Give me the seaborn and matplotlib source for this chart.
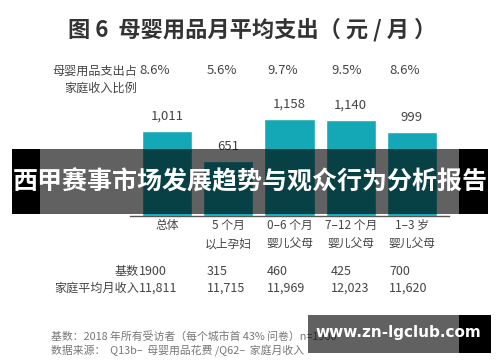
import numpy as np
import pandas as pd
import matplotlib
matplotlib.use("Agg")
import matplotlib.pyplot as plt
import seaborn as sns
from matplotlib.patches import Rectangle

# datos del grafico
categorias = ["总体", "5 个月\n以上孕妇", "0–6 个月\n婴儿父母", "7–12 个月\n婴儿父母", "1–3 岁\n婴儿父母"]
gasto = [1011, 651, 1158, 1140, 999]
porcentaje = ["8.6%", "5.6%", "9.7%", "9.5%", "8.6%"]
base = ["1900", "315", "460", "425", "700"]
ingreso = ["11,811", "11,715", "11,969", "12,023", "11,620"]

sns.set_style("white")
plt.rcParams['font.family'] = ['Noto Sans CJK SC', 'DejaVu Sans']

W, H = 500, 362
fig = plt.figure(figsize=(W / 100, H / 100), dpi=100)
fig.patch.set_facecolor("white")

def fx(px):
    return px / W

def fy(py):
    return 1 - py / H

# eje de barras
ax = fig.add_axes([fx(130.3), fy(216), fx(448.6 - 130.3), (216 - 106.6) / H])
df = pd.DataFrame({"cat": categorias, "gasto": gasto})
sns.barplot(data=df, x="cat", y="gasto", color="#14a8b6", saturation=1, width=0.82, ax=ax)
ax.set_xlim(-0.6, 4.6)
ax.set_ylim(0, 1300)
ax.bar_label(ax.containers[0], labels=[f"{v:,}" for v in gasto], padding=6,
             fontsize=9.5, color="#444444")
ax.set_xlabel("")
ax.set_ylabel("")
ax.set_yticks([])
ax.tick_params(axis="x", length=0, pad=2, labelsize=8.5, labelcolor="#444444")
for lab in ax.get_xticklabels():
    lab.set_linespacing(1.55)
for s in ["top", "left", "right"]:
    ax.spines[s].set_visible(False)
ax.spines["bottom"].set_color("#555555")
ax.spines["bottom"].set_linewidth(1)
ax.patch.set_alpha(0)

# titulo
fig.text(fx(68), fy(30), "图 6  母婴用品月平均支出（ 元 / 月 ）", fontsize=16, fontweight="bold",
         color="#333333", va="center", ha="left")

# filas de texto
col_x = [139, 207, 267, 331, 389]
fig.text(fx(137), fy(71), "母婴用品支出占", fontsize=8.7, color="#444444", ha="right", va="center")
fig.text(fx(137), fy(88), "家庭收入比例", fontsize=8.7, color="#444444", ha="right", va="center")
fig.text(fx(139), fy(271.5), "基数", fontsize=8.7, color="#444444", ha="right", va="center")
fig.text(fx(139), fy(288), "家庭平均月收入", fontsize=8.7, color="#444444", ha="right", va="center")
for i in range(5):
    fig.text(fx(col_x[i]), fy(71), porcentaje[i], fontsize=9.5, color="#444444", ha="left", va="center")
    fig.text(fx(col_x[i]), fy(271.5), base[i], fontsize=9, color="#444444", ha="left", va="center")
    fig.text(fx(col_x[i]), fy(288), ingreso[i], fontsize=9, color="#444444", ha="left", va="center")

# notas
fig.text(fx(51), fy(336), "基数：2018 年所有受访者（每个城市首 43% 问卷）n=1900", fontsize=7.8,
         color="#777777", ha="left", va="center")
fig.text(fx(51), fy(350), "数据来源：  Q13b–  母婴用品花费 /Q62–  家庭月收入", fontsize=7.8,
         color="#777777", ha="left", va="center")

# franja superpuesta
fig.patches.append(Rectangle((fx(12), fy(214)), fx(28), (214 - 149) / H, transform=fig.transFigure,
                             facecolor="black", edgecolor="none", zorder=5))
fig.patches.append(Rectangle((fx(40), fy(214)), fx(419), (214 - 149) / H, transform=fig.transFigure,
                             facecolor="black", alpha=0.62, edgecolor="none", zorder=5))
fig.patches.append(Rectangle((fx(459), fy(214)), fx(29), (214 - 149) / H, transform=fig.transFigure,
                             facecolor="black", edgecolor="none", zorder=5))
fig.text(fx(250), fy(182), "西甲赛事市场发展趋势与观众行为分析报告", fontsize=18, fontweight="bold",
         color="white", ha="center", va="center", zorder=6)

# marca de agua
fig.patches.append(Rectangle((fx(308), fy(353)), fx(151), (353 - 315) / H, transform=fig.transFigure,
                             facecolor="black", alpha=0.62, edgecolor="none", zorder=5))
fig.patches.append(Rectangle((fx(459), fy(353)), fx(32), (353 - 315) / H, transform=fig.transFigure,
                             facecolor="black", edgecolor="none", zorder=5))
fig.text(fx(398), fy(333), "www.zn-lgclub.com", fontsize=11, fontweight="bold",
         color="white", ha="center", va="center", zorder=6, family=["DejaVu Sans"])

fig.savefig("out.png", dpi=100)
